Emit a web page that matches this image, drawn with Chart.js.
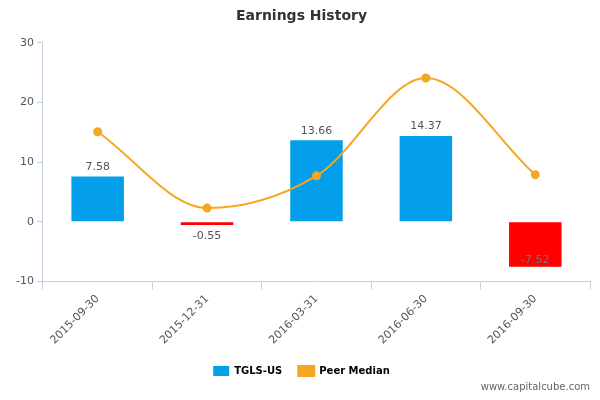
<!doctype html>
<html>
<head>
<meta charset="utf-8">
<script src="https://cdn.jsdelivr.net/npm/chart.js@4.4.0/dist/chart.umd.min.js"></script>
<style>
body{margin:0;background:#fff;}
#wrap{width:600px;height:400px;position:relative;}
#mark{position:absolute;right:10px;bottom:8px;font:10px "DejaVu Sans",sans-serif;color:#666;}
</style>
</head>
<body>
<div id="wrap"><canvas id="chart" width="600" height="400"></canvas><div id="mark">www.capitalcube.com</div></div>
<script>
var etiquetas = ['2015-09-30', '2015-12-31', '2016-03-31', '2016-06-30', '2016-09-30'];
var tgls = [7.58, -0.55, 13.66, 14.37, -7.52];
var peer = [15.1, 2.3, 7.7, 24.1, 7.9];
var ticksY = [-10, 0, 10, 20, 30];

// etiquetas de valor sobre las barras
var barLabels = {
    id: 'barLabels',
    afterDatasetsDraw: function (chart) {
        var ctx = chart.ctx;
        var meta = chart.getDatasetMeta(1);
        ctx.save();
        ctx.font = '11px "DejaVu Sans", sans-serif';
        ctx.fillStyle = '#555';
        ctx.textAlign = 'center';
        meta.data.forEach(function (bar, i) {
            var v = tgls[i];
            if (v >= 0) {
                ctx.textBaseline = 'bottom';
                ctx.fillText(v.toFixed(2), bar.x, bar.y - 4);
            } else if (v > -2) {
                ctx.textBaseline = 'top';
                ctx.fillText(v.toFixed(2), bar.x, bar.y + 6);
            } else {
                ctx.fillStyle = '#777';
                ctx.textBaseline = 'bottom';
                ctx.fillText(v.toFixed(2), bar.x, bar.y - 1);
            }
        });
        ctx.restore();
    }
};

new Chart(document.getElementById('chart').getContext('2d'), {
    type: 'bar',
    data: {
        labels: etiquetas,
        datasets: [{
            type: 'line',
            label: 'Peer Median',
            data: peer,
            borderColor: '#f5a623',
            backgroundColor: '#f5a623',
            borderWidth: 2,
            pointRadius: 3.5,
            cubicInterpolationMode: 'monotone',
            order: 0
        }, {
            label: 'TGLS-US',
            data: tgls,
            backgroundColor: tgls.map(function (v) { return v < 0 ? '#ff0000' : '#049fea'; }),
            barPercentage: 0.48,
            categoryPercentage: 1,
            order: 1
        }]
    },
    options: {
        responsive: false,
        animation: false,
        layout: { padding: { left: 13, right: 10, top: 0, bottom: 14 } },
        plugins: {
            title: {
                display: true, text: 'Earnings History', color: '#333',
                font: { family: 'DejaVu Sans', size: 14, weight: 'bold' },
                padding: { top: 8, bottom: 18 }
            },
            legend: {
                position: 'bottom',
                labels: {
                    color: '#333', boxWidth: 16, boxHeight: 10, padding: 16,
                    font: { family: 'DejaVu Sans', size: 10, weight: 'bold' },
                    generateLabels: function (chart) {
                        return [{
                            text: 'TGLS-US', fillStyle: '#049fea', strokeStyle: '#049fea',
                            lineWidth: 0, datasetIndex: 1
                        }, {
                            text: 'Peer Median', fillStyle: '#f5a623', strokeStyle: '#f5a623',
                            lineWidth: 2, datasetIndex: 0
                        }];
                    }
                }
            },
            tooltip: { enabled: false }
        },
        scales: {
            x: {
                grid: { display: true, drawOnChartArea: false, offset: true, color: '#c0d0e0', tickLength: 8 },
                border: { color: '#c0d0e0' },
                ticks: { color: '#555', maxRotation: 45, minRotation: 45, font: { family: 'DejaVu Sans', size: 11 } }
            },
            y: {
                min: -10, max: 30,
                afterBuildTicks: function (axis) { axis.ticks = ticksY.map(function (v) { return { value: v }; }); },
                grid: { display: true, drawOnChartArea: false, color: '#c0d0e0', tickLength: 6 },
                border: { color: '#c0d0e0' },
                ticks: { color: '#555', font: { family: 'DejaVu Sans', size: 11 } }
            }
        }
    },
    plugins: [barLabels]
});
</script>
</body>
</html>
